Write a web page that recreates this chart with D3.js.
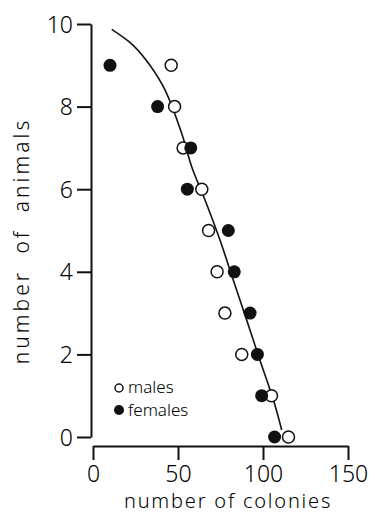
<!doctype html>
<html>
<head>
  <meta charset="utf-8">
  <title>number of animals vs number of colonies</title>
  <style>
    html, body { margin: 0; padding: 0; background: #fff; }
    svg { display: block; }
    text { font-family: "Noto Sans", "Open Sans", sans-serif; font-weight: 300; fill: #000; }
    .axis path, .axis line { stroke: #111; stroke-width: 2; }
    .axis text { font-size: 23px; fill: #000; }
  </style>
</head>
<body>
  <div id="chart"></div>
  <script src="https://cdn.jsdelivr.net/npm/d3@7"></script>
  <script>
    // values
    const malesX = [46, 48, 53, 64, 68, 73, 77.6, 87.5, 105, 115];
    const malesY = [9, 8, 7, 6, 5, 4, 3, 2, 1, 0];
    const femalesX = [10, 38, 57.5, 55.5, 79.6, 83.1, 92.4, 96.7, 99.2, 106.8];
    const femalesY = [9, 8, 7, 6, 5, 4, 3, 2, 1, 0];
    // hand-drawn fitted curve
    const curveX = [11, 23.5, 33.5, 42.4, 52.2, 58.1, 65.9, 74.7, 82.5, 90.4, 98.2, 106.1, 111];
    const curveY = [9.87, 9.49, 9.0, 8.4, 7.35, 6.54, 5.74, 4.77, 3.8, 2.83, 1.86, 0.9, 0.17];
    const xTicks = [0, 50, 100, 150];
    const yTicks = [0, 2, 4, 6, 8, 10];

    const width = 375, height = 515;
    const svg = d3.select('#chart').append('svg')
      .attr('width', width).attr('height', height);

    const x = d3.scaleLinear().domain([0, 150]).range([93, 348]);
    const y = d3.scaleLinear().domain([0, 10]).range([437, 24]);

    // y axis
    const yAxis = svg.append('g').attr('class', 'axis')
      .attr('transform', 'translate(91,0)')
      .call(d3.axisLeft(y).tickValues(yTicks).tickSize(14).tickSizeOuter(0).tickPadding(4));
    yAxis.selectAll('text').attr('dy', '0.35em');

    // x axis
    svg.append('g').attr('class', 'axis')
      .attr('transform', 'translate(0,446)')
      .call(d3.axisBottom(x).tickValues(xTicks).tickSize(14).tickSizeOuter(0).tickPadding(6));

    svg.append('text')
      .attr('x', 228).attr('y', 508)
      .attr('text-anchor', 'middle')
      .style('font-size', '20px').style('letter-spacing', '1.8px')
      .text('number of colonies');

    svg.append('text')
      .attr('transform', 'translate(29,241) rotate(-90)')
      .attr('text-anchor', 'middle')
      .style('font-size', '21px').style('letter-spacing', '3px').style('word-spacing', '8px')
      .text('number of animals');

    // fitted curve
    const curvePts = curveX.map((d, i) => [d, curveY[i]]);
    svg.append('path')
      .datum(curvePts)
      .attr('fill', 'none').attr('stroke', '#111').attr('stroke-width', 1.6)
      .attr('d', d3.line().x(d => x(d[0])).y(d => y(d[1])).curve(d3.curveCatmullRom));

    // males (open)
    svg.append('g').selectAll('circle')
      .data(malesX.map((d, i) => [d, malesY[i]]))
      .join('circle')
      .attr('cx', d => x(d[0])).attr('cy', d => y(d[1])).attr('r', 6)
      .attr('fill', '#fff').attr('stroke', '#111').attr('stroke-width', 1.5);

    // females (filled)
    svg.append('g').selectAll('circle')
      .data(femalesX.map((d, i) => [d, femalesY[i]]))
      .join('circle')
      .attr('cx', d => x(d[0])).attr('cy', d => y(d[1])).attr('r', 6.5)
      .attr('fill', '#111');

    // legend
    const legend = svg.append('g');
    legend.append('circle').attr('cx', 119).attr('cy', 388).attr('r', 4)
      .attr('fill', '#fff').attr('stroke', '#111').attr('stroke-width', 1.5);
    legend.append('text').attr('x', 128).attr('y', 393).style('font-size', '17px').text('males');
    legend.append('circle').attr('cx', 119).attr('cy', 410).attr('r', 5).attr('fill', '#111');
    legend.append('text').attr('x', 128).attr('y', 416).style('font-size', '17px').text('females');
  </script>
</body>
</html>
